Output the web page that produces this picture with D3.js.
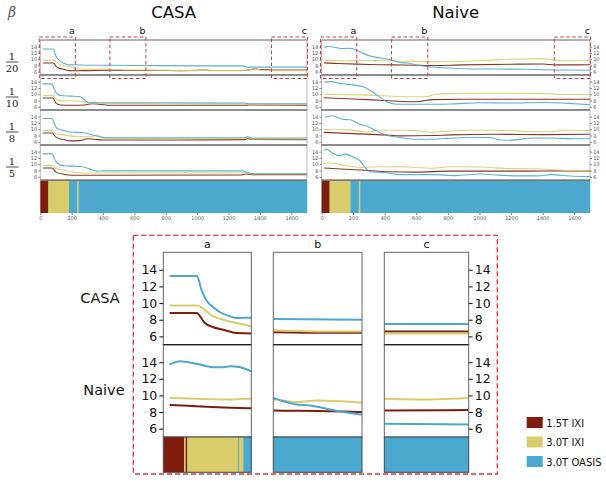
<!DOCTYPE html>
<html>
<head>
<meta charset="utf-8">
<script src="https://cdn.jsdelivr.net/npm/d3@7"></script>
<style>
  body { margin: 0; background: #fff; }
  text { font-family: "DejaVu Sans", sans-serif; }
</style>
</head>
<body>
<div id="chart"></div>
<script>
// ---- data ----
const methods = ['CASA', 'Naive'];
const betaDenoms = ['20', '10', '8', '5'];
const seriesNames = ['1.5T IXI', '3.0T IXI', '3.0T OASIS'];
const seriesColors = ['#7f1d0d', '#d9cd6b', '#4ba8cf'];
const xTicks = [0, 200, 400, 600, 800, 1000, 1200, 1400, 1600];
const yTicks = [6, 8, 10, 12, 14];
const windowNames = ['a', 'b', 'c'];
const windowStart = [0, 450, 1480];
const windowEnd = [220, 670, 1700];

// scanner source along the sequence: [from, to, series index]
const sourceSegments = [[0, 51, 0], [51, 183, 1], [183, 236, 2], [236, 245, 1], [245, 1700, 2]];
const sourceSegmentsA = [[0, 52, 0], [52, 56, 1], [56, 60, 0], [60, 187, 1], [187, 190, 2], [190, 200, 1], [200, 220, 2]];

// each row: [1.5T IXI, 3.0T IXI, 3.0T OASIS] as [x, value] points
const casa20 = [
  [[16,8.8],[84,8.8],[95,8.2],[104,7.6],[125,7.1],[150,6.8],[183,6.4],[220,6.35],[300,6.4],[450,6.5],[550,6.45],[670,6.45],[900,6.4],[1000,6.5],[1040,6.7],[1080,6.45],[1300,6.45],[1340,6.7],[1370,7.0],[1400,6.7],[1480,6.6],[1700,6.6]],
  [[16,9.7],[84,9.7],[125,8.4],[150,8.0],[183,7.6],[220,7.2],[260,6.9],[320,6.8],[450,6.75],[560,6.6],[670,6.6],[800,6.5],[1000,6.4],[1040,6.7],[1080,6.4],[1300,6.4],[1340,6.7],[1370,7.0],[1410,6.5],[1480,6.35],[1700,6.35]],
  [[16,13.25],[84,13.25],[96,11.5],[108,10.3],[125,9.5],[142,8.9],[167,8.4],[183,8.2],[220,8.25],[300,8.1],[450,8.1],[670,8.0],[1000,7.9],[1290,7.9],[1320,7.5],[1700,7.5]]
];
const casa10 = [
  [[16,8.8],[80,8.8],[100,7.2],[130,6.6],[200,6.5],[280,6.6],[330,7.0],[380,6.8],[450,6.5],[800,6.5],[1300,6.5],[1330,6.6],[1700,6.5]],
  [[16,9.6],[80,9.6],[100,8.4],[130,7.9],[250,7.8],[285,7.5],[310,7.2],[700,7.0],[1300,6.9],[1340,6.8],[1700,6.8]],
  [[16,13.3],[75,13.3],[90,11.5],[110,10.0],[130,9.6],[200,9.4],[255,9.2],[285,8.0],[315,7.3],[340,7.5],[370,7.3],[700,7.3],[1300,7.2],[1330,7.0],[1700,7.0]]
];
const casa8 = [
  [[16,8.8],[75,8.8],[100,7.5],[140,6.8],[190,6.3],[250,6.4],[300,7.0],[350,6.8],[400,6.6],[900,6.6],[1300,6.7],[1320,7.0],[1350,6.8],[1700,6.7]],
  [[16,9.6],[75,9.6],[100,8.6],[140,8.2],[200,7.8],[300,7.6],[330,7.7],[365,8.2],[390,7.3],[600,7.1],[900,7.0],[920,7.3],[950,7.0],[1300,7.0],[1320,7.5],[1360,6.9],[1700,6.9]],
  [[16,13.4],[73,13.4],[104,10.4],[145,9.7],[190,9.1],[275,8.9],[317,8.4],[381,7.6],[420,7.3],[900,7.3],[1300,7.3],[1320,7.6],[1350,7.2],[1700,7.2]]
];
const casa5 = [
  [[16,8.8],[75,8.8],[100,7.5],[150,6.8],[200,6.5],[300,6.5],[1280,6.6],[1310,6.9],[1350,6.7],[1700,6.7]],
  [[16,9.6],[75,9.6],[100,8.7],[145,8.2],[230,7.4],[300,7.2],[900,7.2],[920,7.4],[950,7.2],[1280,7.3],[1310,7.6],[1350,6.9],[1700,6.9]],
  [[16,13.3],[75,13.3],[100,10.8],[145,9.5],[250,9.3],[275,9.1],[310,8.6],[360,7.8],[400,7.9],[1290,7.9],[1320,7.3],[1360,7.0],[1700,7.0]]
];
const naive20 = [
  [[16,8.85],[83,8.7],[150,8.55],[220,8.45],[300,8.35],[450,8.2],[600,8.1],[670,8.0],[900,8.2],[1200,8.4],[1400,8.5],[1480,8.2],[1700,8.25]],
  [[16,9.7],[83,9.6],[150,9.5],[220,9.6],[300,9.6],[450,9.5],[508,9.2],[560,9.4],[620,9.3],[670,9.15],[815,9.2],[1000,9.5],[1100,9.8],[1300,10.1],[1430,10.1],[1480,9.6],[1560,9.5],[1700,9.7]],
  [[16,13.7],[42,14.1],[83,13.8],[125,13.4],[150,13.4],[167,13.5],[192,13.4],[220,12.9],[290,11.3],[380,10.3],[450,9.7],[475,9.3],[508,8.9],[541,8.8],[582,8.4],[624,8.0],[670,7.7],[800,7.2],[900,7.0],[1100,6.9],[1300,6.8],[1480,6.6],[1700,6.5]]
];
const naive10 = [
  [[16,8.9],[200,8.5],[400,8.0],[560,7.6],[620,7.7],[700,8.3],[900,8.4],[1700,8.4]],
  [[16,10.0],[100,9.9],[250,9.8],[400,9.5],[560,9.2],[668,9.2],[720,10.0],[815,10.2],[1000,10.3],[1200,10.3],[1400,10.2],[1550,9.9],[1700,10.0]],
  [[16,13.8],[50,14.0],[136,13.3],[263,12.4],[350,9.8],[413,7.6],[477,6.8],[700,6.8],[815,6.9],[1000,7.3],[1200,7.2],[1400,7.4],[1600,7.0],[1700,6.7]]
];
const naive8 = [
  [[16,9.0],[200,8.6],[400,8.2],[500,7.9],[700,8.0],[815,8.2],[1100,8.4],[1400,8.3],[1700,8.4]],
  [[16,9.9],[180,9.8],[260,9.2],[300,9.1],[350,9.7],[500,9.7],[600,9.6],[688,9.0],[800,9.4],[878,9.6],[1000,9.7],[1200,9.6],[1300,9.2],[1450,9.2],[1550,9.7],[1700,9.6]],
  [[22,13.8],[65,14.3],[137,13.1],[181,13.0],[244,11.6],[296,10.8],[350,9.4],[413,8.1],[497,7.4],[603,6.8],[688,6.8],[878,7.3],[1068,7.4],[1130,6.6],[1195,6.5],[1335,7.2],[1440,7.2],[1600,7.0],[1700,7.0]]
];
const naive5 = [
  [[16,8.8],[150,8.4],[300,8.0],[415,7.6],[600,7.5],[815,7.8],[1000,7.8],[1300,7.8],[1500,7.9],[1700,7.9]],
  [[16,10.3],[60,10.4],[149,9.6],[250,9.0],[300,9.1],[500,9.2],[700,8.7],[815,9.2],[1000,9.1],[1200,8.6],[1400,8.5],[1550,8.0],[1700,8.1]],
  [[16,14.3],[33,14.8],[73,13.4],[117,12.7],[149,13.2],[200,12.3],[244,11.1],[276,9.0],[307,7.6],[392,7.4],[497,6.7],[707,6.7],[850,6.4],[1010,6.9],[1100,6.6],[1240,6.3],[1370,6.3],[1450,6.7],[1600,6.2],[1700,6.1]]
];
const rowsByMethod = [[casa20, casa10, casa8, casa5], [naive20, naive10, naive8, naive5]];

// ---- layout ----
const width = 606, height = 484;
const yDomain = [5, 16.1];
const topX = [[40.3, 307], [321.5, 590]];
const rowTop = [40, 75, 110, 145];
const rowH = 35;
const cbTop = 181, cbBottom = 213;
const dashRed = '#d9363a';

const svg = d3.select('#chart').append('svg')
    .attr('width', width)
    .attr('height', height);
const defs = svg.append('defs');
let clipId = 0;
function clipRect(x, y, w, h) {
  const id = 'clip' + (clipId++);
  defs.append('clipPath').attr('id', id)
      .append('rect').attr('x', x).attr('y', y).attr('width', w).attr('height', h);
  return 'url(#' + id + ')';
}
function styleAxis(g, fs, col) {
  g.attr('font-size', fs).attr('font-family', 'DejaVu Sans');
  g.select('.domain').remove();
  g.selectAll('text').attr('fill', col);
  g.selectAll('line').attr('stroke', col).attr('stroke-width', 0.7);
}

// beta symbol
svg.append('text').attr('x', 12).attr('y', 17)
    .attr('text-anchor', 'middle')
    .style('font-family', 'DejaVu Serif').style('font-style', 'italic')
    .attr('font-size', 14).attr('fill', '#555').text('β');

// row fraction labels
betaDenoms.forEach((d, i) => {
  const c = rowTop[i] + rowH / 2 + 4.5;
  const g = svg.append('g').style('font-family', 'DejaVu Serif').attr('font-size', 10).attr('fill', '#222');
  g.append('text').attr('x', 12).attr('y', c - 2.5).attr('text-anchor', 'middle').style('font-family', 'DejaVu Serif').text('1');
  g.append('line').attr('x1', 6).attr('x2', 18.5).attr('y1', c).attr('y2', c).attr('stroke', '#222').attr('stroke-width', 0.8);
  g.append('text').attr('x', 12).attr('y', c + 10).attr('text-anchor', 'middle').style('font-family', 'DejaVu Serif').text(d);
});

// ---- top overview panels ----
methods.forEach((m, mi) => {
  const xScale = d3.scaleLinear().domain([0, 1700]).range(topX[mi]);
  const [x0, x1] = topX[mi];

  svg.append('text')
      .attr('x', (x0 + x1) / 2).attr('y', 18)
      .attr('text-anchor', 'middle')
      .attr('font-size', 16.5).attr('fill', '#111')
      .text(m);

  rowsByMethod[mi].forEach((rowData, ri) => {
    const yScale = d3.scaleLinear().domain(yDomain).range([rowTop[ri] + rowH, rowTop[ri]]);
    const line = d3.line().x(d => xScale(d[0])).y(d => yScale(d[1])).curve(d3.curveMonotoneX);
    const g = svg.append('g').attr('clip-path', clipRect(x0, rowTop[ri], x1 - x0, rowH));
    rowData.forEach((pts, si) => {
      g.append('path').datum(pts)
          .attr('d', line)
          .attr('fill', 'none')
          .attr('stroke', seriesColors[si])
          .attr('stroke-width', 1.1)
          .attr('stroke-opacity', 0.9);
    });

    // spines
    svg.append('line').attr('x1', x0).attr('x2', x0).attr('y1', rowTop[ri]).attr('y2', rowTop[ri] + rowH)
        .attr('stroke', '#999').attr('stroke-width', 0.7);
    svg.append('line').attr('x1', x1).attr('x2', x1).attr('y1', rowTop[ri]).attr('y2', rowTop[ri] + rowH)
        .attr('stroke', '#999').attr('stroke-width', 0.7);
    [rowTop[ri], rowTop[ri] + rowH].forEach(yy => {
      svg.append('line').attr('x1', x0).attr('x2', x1).attr('y1', yy).attr('y2', yy)
          .attr('stroke', '#666').attr('stroke-width', 1.2);
    });

    const leftAxis = svg.append('g').attr('transform', `translate(${x0},0)`)
        .call(d3.axisLeft(yScale).tickValues(yTicks).tickSize(2).tickPadding(1.2));
    styleAxis(leftAxis, 5, '#555');
    if (mi === 1) {
      const rightAxis = svg.append('g').attr('transform', `translate(${x1},0)`)
          .call(d3.axisRight(yScale).tickValues(yTicks).tickSize(2).tickPadding(1.2));
      styleAxis(rightAxis, 5, '#555');
    }
  });

  // source colour strip
  svg.append('g').selectAll('rect')
      .data(sourceSegments)
      .enter()
      .append('rect')
      .attr('x', d => xScale(d[0]))
      .attr('width', d => xScale(d[1]) - xScale(d[0]) + 0.3)
      .attr('y', cbTop)
      .attr('height', cbBottom - cbTop)
      .attr('fill', d => seriesColors[d[2]]);
  svg.append('line').attr('x1', x0).attr('x2', x1).attr('y1', cbTop - 0.6).attr('y2', cbTop - 0.6)
      .attr('stroke', '#777').attr('stroke-width', 1.4);
  const bottomAxis = svg.append('g').attr('transform', `translate(0,${cbBottom})`)
      .call(d3.axisBottom(xScale).tickValues(xTicks).tickFormat(d3.format('d')).tickSize(2).tickPadding(1.5));
  styleAxis(bottomAxis, 5, '#555');

  // dashed zoom windows on the first row
  windowNames.forEach((w, wi) => {
    const bx0 = xScale(windowStart[wi]) - 1;
    const bx1 = xScale(windowEnd[wi]) + 0.5;
    svg.append('rect')
        .attr('x', bx0).attr('y', rowTop[0] - 3)
        .attr('width', bx1 - bx0).attr('height', rowH + 6.5)
        .attr('fill', 'none')
        .attr('stroke', dashRed)
        .attr('stroke-width', 1)
        .attr('stroke-dasharray', '3.5,2.5');
    svg.append('text')
        .attr('x', bx1 - 0.5).attr('y', 34)
        .attr('text-anchor', 'end')
        .attr('font-size', 9.5).attr('fill', '#111')
        .text(w);
  });
});

// ---- detail panels ----
const detailCols = [[163.3, 251.3], [273.3, 362], [384.3, 468.7]];
const detailRows = [[252.3, 344.7], [344.7, 437]];
const detailCb = [437, 472.3];
const detailSeries = [casa20, naive20];

windowNames.forEach((w, wi) => {
  const [cx0, cx1] = detailCols[wi];
  const xScale = d3.scaleLinear().domain([windowStart[wi], windowEnd[wi]]).range([cx0, cx1]);

  svg.append('text')
      .attr('x', (cx0 + cx1) / 2).attr('y', 248)
      .attr('text-anchor', 'middle')
      .attr('font-size', 11).attr('fill', '#111')
      .text(w);

  detailRows.forEach(([ry0, ry1], mi) => {
    const yScale = d3.scaleLinear().domain(yDomain).range([ry1, ry0]);
    const line = d3.line().x(d => xScale(d[0])).y(d => yScale(d[1])).curve(d3.curveMonotoneX);
    const g = svg.append('g').attr('clip-path', clipRect(cx0, ry0, cx1 - cx0, ry1 - ry0));
    detailSeries[mi].forEach((pts, si) => {
      g.append('path').datum(pts)
          .attr('d', line)
          .attr('fill', 'none')
          .attr('stroke', seriesColors[si])
          .attr('stroke-width', 2)
          .attr('stroke-linejoin', 'round');
    });
    svg.append('rect')
        .attr('x', cx0).attr('y', ry0)
        .attr('width', cx1 - cx0).attr('height', ry1 - ry0)
        .attr('fill', 'none').attr('stroke', '#666').attr('stroke-width', 1);

    if (wi === 0) {
      const ax = svg.append('g').attr('transform', `translate(${cx0},0)`)
          .call(d3.axisLeft(yScale).tickValues(yTicks).tickSize(4).tickPadding(2));
      styleAxis(ax, 12.5, '#111');
      ax.selectAll('line').attr('stroke-width', 1);
    }
    if (wi === 2) {
      const ax = svg.append('g').attr('transform', `translate(${cx1},0)`)
          .call(d3.axisRight(yScale).tickValues(yTicks).tickSize(4).tickPadding(2));
      styleAxis(ax, 12.5, '#111');
      ax.selectAll('line').attr('stroke-width', 1);
    }
  });

  // separator between CASA and Naive rows
  svg.append('line').attr('x1', cx0).attr('x2', cx1)
      .attr('y1', detailRows[0][1]).attr('y2', detailRows[0][1])
      .attr('stroke', '#222').attr('stroke-width', 1.2);

  // source strip for this window
  const segs = wi === 0 ? sourceSegmentsA : sourceSegments;
  svg.append('g').attr('clip-path', clipRect(cx0, detailCb[0], cx1 - cx0, detailCb[1] - detailCb[0]))
      .selectAll('rect')
      .data(segs)
      .enter()
      .append('rect')
      .attr('x', d => xScale(d[0]))
      .attr('width', d => xScale(d[1]) - xScale(d[0]) + 0.3)
      .attr('y', detailCb[0])
      .attr('height', detailCb[1] - detailCb[0])
      .attr('fill', d => seriesColors[d[2]]);
  svg.append('rect')
      .attr('x', cx0).attr('y', detailCb[0])
      .attr('width', cx1 - cx0).attr('height', detailCb[1] - detailCb[0])
      .attr('fill', 'none').attr('stroke', '#444').attr('stroke-width', 1);
});

// method names for detail rows
svg.append('text').attr('x', 100).attr('y', 303).attr('text-anchor', 'middle')
    .attr('font-size', 14.5).attr('fill', '#111').text('CASA');
svg.append('text').attr('x', 104).attr('y', 395).attr('text-anchor', 'middle')
    .attr('font-size', 14.5).attr('fill', '#111').text('Naive');

// big dashed frame around the detail
svg.append('rect')
    .attr('x', 133.3).attr('y', 235.3)
    .attr('width', 364).attr('height', 238.7)
    .attr('fill', 'none')
    .attr('stroke', dashRed)
    .attr('stroke-width', 1.3)
    .attr('stroke-dasharray', '5,3');

// legend
const legend = svg.append('g').attr('transform', 'translate(526.7,417)');
seriesNames.forEach((name, i) => {
  legend.append('rect')
      .attr('x', 0).attr('y', i * 19.5)
      .attr('width', 16).attr('height', 11)
      .attr('fill', seriesColors[i]);
  legend.append('text')
      .attr('x', 19.5).attr('y', i * 19.5 + 9.5)
      .attr('font-size', 10).attr('fill', '#111')
      .text(name);
});
</script>
</body>
</html>
